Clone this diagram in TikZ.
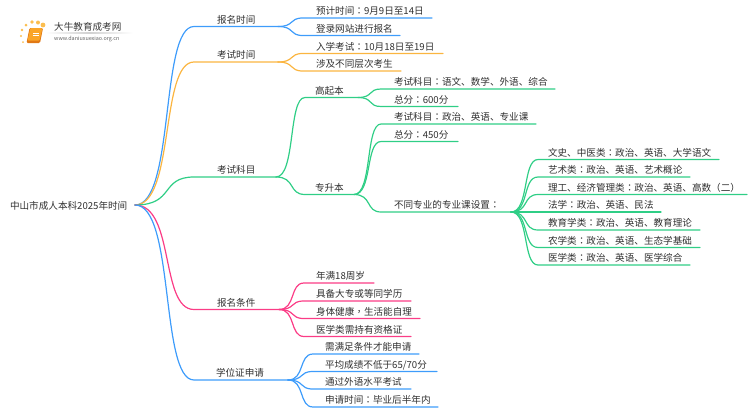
\documentclass[tikz,border=0pt]{standalone}
\usepackage{fontspec}
\setmainfont{Noto Sans CJK SC}
\newfontfamily\jpf{Noto Sans CJK JP}
\newfontfamily\tcf{Noto Sans CJK TC}
\usetikzlibrary{calc}
\definecolor{cblue}{HTML}{3E9CFB}
\definecolor{corange}{HTML}{FBB540}
\definecolor{cgreen}{HTML}{2FCE86}
\definecolor{cpink}{HTML}{FB3C86}
\definecolor{ctext}{HTML}{303030}
\tikzset{
  lbl/.style={anchor=base west,inner sep=0pt,outer sep=0pt,text=ctext,font=\fontsize{9.6}{11}\selectfont},
  wire/.style={line width=1.2pt,line cap=round},
}
% \branch{name}{flat start x}{y}{end x}{text x}{colour}{parent}{text}
\newcommand\branch[8]{%
  \node[lbl] (#1) at (#5,#3-3.2) {#8};
  \coordinate (#1s) at (#2,#3);
  \coordinate (#1e) at (#4,#3);
  \draw[wire,#6] (#7e) .. controls ($(#7e)!.68!(#7e-|#1s)$) and ($(#1s)!.58!(#1s-|#7e)$) .. (#1s) -- (#1e);
}
\newcommand\cln{{\jpf ：}}
\begin{document}
\begin{tikzpicture}[x=1pt,y=-1pt]
\useasboundingbox (0,0) rectangle (750,410);
% root
\node[lbl] (root) at (10,209.3) {中山市成人本科2025年时间};
\coordinate (roote) at (135,205);
% level 1 and below
\branch{a}{194}{26.5}{278}{217}{cblue}{root}{报名时间}
\branch{a1}{303}{18}{432}{316}{cblue}{a}{预计时间\cln 9月9日至14日}
\branch{a2}{303}{35.5}{400}{316}{cblue}{a}{登录网站进行报名}
\branch{b}{194}{62}{278}{217}{corange}{root}{考试时间}
\branch{b1}{303}{53.5}{443}{316}{corange}{b}{入学考试\cln 10月18日至19日}
\branch{b2}{303}{71}{401}{316}{corange}{b}{涉及不同层次考生}
\branch{c}{194}{177}{276}{217}{cgreen}{root}{考试科目}
\branch{c1}{305}{97.5}{358}{315}{cgreen}{c}{高起本}
\branch{c2}{305}{194.5}{354}{315}{cgreen}{c}{专升本}
\branch{c11}{381}{89}{555}{394}{cgreen}{c1}{考试科目\cln 语文、数学、外语、综合}
\branch{c12}{381}{106.5}{458}{394}{cgreen}{c1}{总分\cln 600分}
\branch{c21}{381}{124}{536}{394}{cgreen}{c2}{考试科目\cln 政治、英语、专业课}
\branch{c22}{381}{141.5}{458}{394}{cgreen}{c2}{总分\cln 450分}
\branch{c23}{381}{212}{511}{394}{cgreen}{c2}{不同专业的专业课设置\cln}
\branch{d1}{538}{159.5}{719}{548}{cgreen}{c23}{文史、中医类\cln 政治、英语、大学语文}
\branch{d2}{538}{177}{690}{548}{cgreen}{c23}{艺术类\cln 政治、英语、艺术概论}
\branch{d3}{538}{194.5}{747}{548}{cgreen}{c23}{理工、经济管理类\cln 政治、英语、高数（二）}
\branch{d4}{538}{212}{661}{548}{cgreen}{c23}{法学\cln 政治、英语、民法}
\branch{d5}{538}{230}{700}{548}{cgreen}{c23}{教育学类\cln 政治、英语、教育理论}
\branch{d6}{538}{247.5}{700}{548}{cgreen}{c23}{农学类\cln 政治、英语、生态学基础}
\branch{d7}{538}{265}{690}{548}{cgreen}{c23}{医学类\cln 政治、英语、医学综合}
\branch{e}{194}{309.5}{279}{217}{cpink}{root}{报名条件}
\branch{e1}{304}{283}{374}{316}{cpink}{e}{年满18周岁}
\branch{e2}{304}{301}{411}{316}{cpink}{e}{具备大专或等同学历}
\branch{e3}{304}{318.5}{420}{316}{cpink}{e}{身体健康{\tcf ，}生活能自理}
\branch{e4}{304}{336.5}{411}{316}{cpink}{e}{医学类需持有资格证}
\branch{f}{194}{380}{288}{216}{cblue}{root}{学位证申请}
\branch{f1}{313}{354}{419}{325}{cblue}{f}{需满足条件才能申请}
\branch{f2}{313}{371.5}{437}{325}{cblue}{f}{平均成绩不低于65/70分}
\branch{f3}{313}{389}{411}{325}{cblue}{f}{通过外语水平考试}
\branch{f4}{313}{407}{438}{325}{cblue}{f}{申请时间\cln 毕业后半年内}
% logo
\foreach \px/\py/\pr in {43/25/2.4,38/22.5/2,32/22/1.8,26/25/1.5,22/30/1.3,21/36/1.1,23/42/1}
  \fill[color={rgb,255:red,251;green,190;blue,80}] (\px,\py) circle (\pr);
\fill[rounded corners=1.2pt,color={rgb,255:red,225;green,120;blue,20}] (29.5,28) -- (43,28) -- (40,43) -- (26.5,43) -- cycle;
\fill[rounded corners=1pt,color={rgb,255:red,250;green,165;blue,40}] (30.5,28) -- (42.5,28) -- (39.5,40.5) -- (27.5,40.5) -- cycle;
\draw[white,line width=.5pt] (33,33) -- (39,33) (32.5,35.5) -- (38.5,35.5);
\shade[left color=white,right color=white,middle color=black!18] (45,32.8) rectangle (133,33.4);
\node[anchor=base west,inner sep=0pt,text=black!78,font=\fontsize{9.6}{11}\selectfont] (logoa) at (54,30.8) {大牛教育成考网};
\node[anchor=base west,inner sep=0pt,text=black!62,font=\fontsize{5.4}{6}\selectfont] (logob) at (54,40.8) {www.daniuxuexiao.org.cn};
\end{tikzpicture}
\end{document}
